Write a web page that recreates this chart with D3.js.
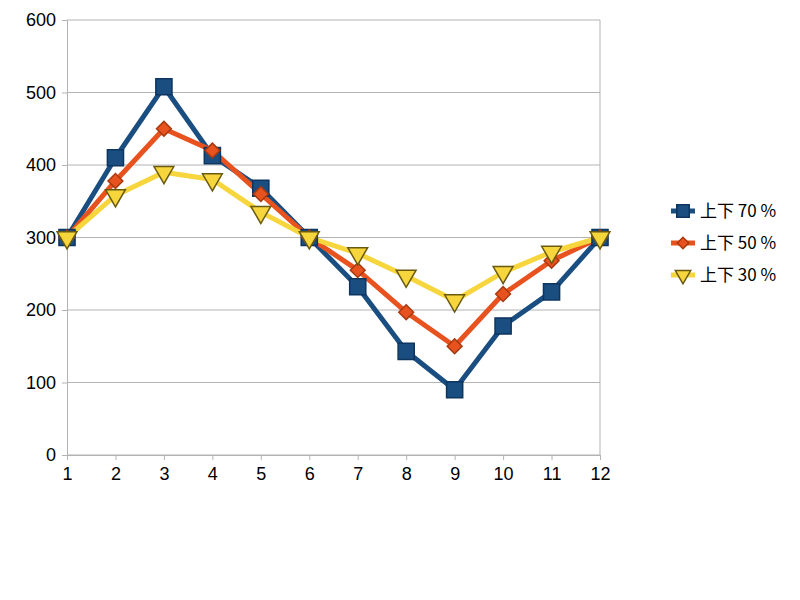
<!DOCTYPE html>
<html><head><meta charset="utf-8">
<script src="https://cdn.jsdelivr.net/npm/d3@7"></script>
<style>body{margin:0;background:#fff}</style></head>
<body><div id="chart"></div>
<script>
const months = [1,2,3,4,5,6,7,8,9,10,11,12];
const names = ["上下 70 %", "上下 50 %", "上下 30 %"];
const s70 = [300,410,508,413,368,300,232,143,90,178,225,300];
const s50 = [300,378,450,420,360,300,255,197,150,222,268,300];
const s30 = [300,358,390,380,335,300,278,247,213,252,280,300];
const yTicks = [0,100,200,300,400,500,600];

const series = [
  {name: names[0], values: s70, color: "#1a4e80", stroke: "#0d3560", shape: d3.symbolSquare, size: 260, rot: 0},
  {name: names[1], values: s50, color: "#e8521e", stroke: "#a83a10", shape: d3.symbolSquare, size: 110, rot: 45},
  {name: names[2], values: s30, color: "#f6d63c", stroke: "#6a5a10", shape: d3.symbolTriangle, size: 170, rot: 180}
];

const svg = d3.select("#chart").append("svg").attr("width", 800).attr("height", 600);
const x = d3.scaleLinear().domain([1, 12]).range([67, 600]);
const y = d3.scaleLinear().domain([0, 600]).range([455, 20]);

svg.append("g").selectAll("line").data(yTicks).join("line")
  .attr("x1", 67).attr("x2", 600).attr("y1", d => y(d)).attr("y2", d => y(d))
  .attr("stroke", "#b3b3b3").attr("stroke-width", 1);
svg.append("line").attr("x1", 600).attr("x2", 600).attr("y1", 20).attr("y2", 455).attr("stroke", "#b3b3b3");

const yAxis = svg.append("g").attr("transform", "translate(67,0)")
  .call(d3.axisLeft(y).tickValues(yTicks).tickSize(5).tickPadding(6));
const xAxis = svg.append("g").attr("transform", "translate(0,455)")
  .call(d3.axisBottom(x).tickValues(months).tickSize(5).tickPadding(7));
[yAxis, xAxis].forEach(a => {
  a.selectAll("path,line").attr("stroke", "#b3b3b3");
  a.selectAll("text").attr("fill", "#000").style("font-size", "18px").style("font-family", "Liberation Sans, Arial");
});

const line = d3.line().x((d, i) => x(months[i])).y(d => y(d));
series.forEach(s => {
  svg.append("path").datum(s.values).attr("d", line)
    .attr("fill", "none").attr("stroke", s.color).attr("stroke-width", 5).attr("stroke-linejoin", "round");
});
series.forEach(s => {
  svg.append("g").selectAll("path").data(s.values).join("path")
    .attr("d", d3.symbol().type(s.shape).size(s.size))
    .attr("transform", (d, i) => `translate(${x(months[i])},${y(d)}) rotate(${s.rot})`)
    .attr("fill", s.color).attr("stroke", s.stroke).attr("stroke-width", 1.5);
});

const leg = svg.append("g").attr("transform", "translate(683,211)");
series.forEach((s, i) => {
  const g = leg.append("g").attr("transform", `translate(0,${i * 32})`);
  g.append("line").attr("x1", -12).attr("x2", 12).attr("stroke", s.color).attr("stroke-width", 5);
  g.append("path").attr("d", d3.symbol().type(s.shape).size(s.size * 0.6))
    .attr("transform", `rotate(${s.rot})`).attr("fill", s.color).attr("stroke", s.stroke).attr("stroke-width", 1.5);
  g.append("text").attr("x", 17).attr("y", 6).text(s.name)
    .style("font-size", "17px").style("font-family", "Noto Sans CJK JP, sans-serif");
});
</script></body></html>
